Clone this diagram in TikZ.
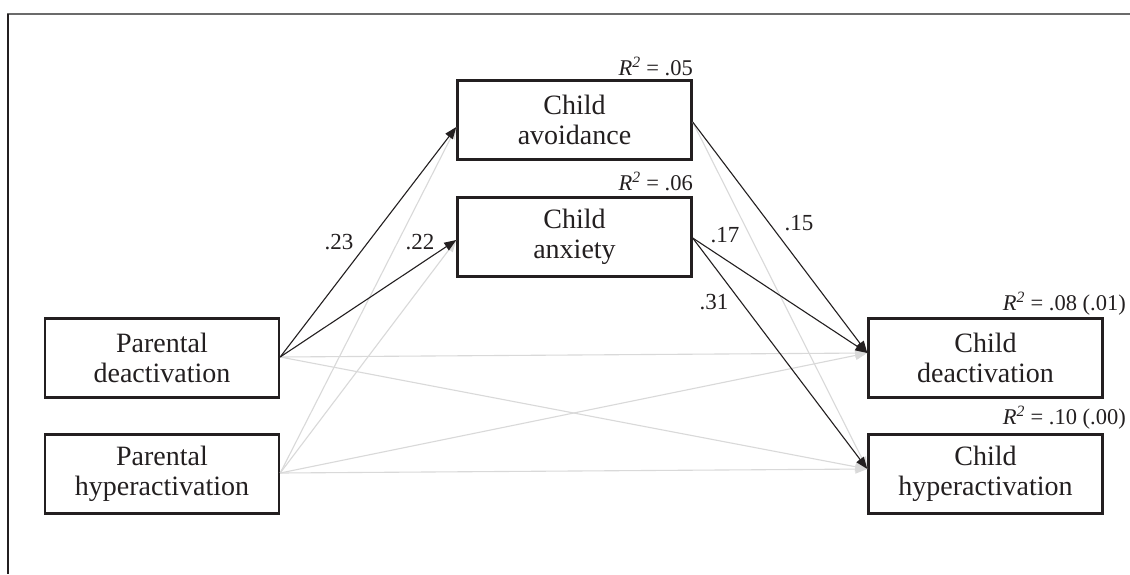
\documentclass[tikz,border=0pt]{standalone}
\usepackage{fontspec}
\setmainfont{Liberation Serif}
\usetikzlibrary{arrows.meta,calc}
\definecolor{ink}{HTML}{231F20}
\definecolor{faint}{HTML}{D9D9D9}
\definecolor{framegray}{HTML}{6B6B6B}
\tikzset{
  varbox/.style={draw=ink, line width=2.4pt, minimum width=234pt, minimum height=79pt,
    align=center, inner sep=0pt, text=ink,
    font=\fontsize{28}{29.5}\selectfont},
  strong/.style={draw=ink, line width=1.1pt, -{Triangle[length=12pt,width=9pt]}},
  weak/.style={draw=faint, line width=1.1pt, -{Triangle[length=12pt,width=9pt]}},
  rsq/.style={anchor=base east, inner sep=0pt, text=ink, font=\fontsize{22.5}{24}\selectfont},
  coef/.style={inner sep=0pt, text=ink, font=\fontsize{23}{25}\selectfont},
}
\begin{document}
\begin{tikzpicture}[x=1pt,y=-1pt]
\useasboundingbox (0,0) rectangle (1130,574);
\fill[white] (0,0) rectangle (1130,574);
\draw[framegray, line width=2pt] (7,14) -- (1130,14);
\draw[ink, line width=1.4pt] (8,13.5) -- (8,574);

\node[varbox] (pd) at (162,358) {Parental\\deactivation};
\node[varbox] (ph) at (162,474) {Parental\\hyperactivation};
\node[varbox] (cav) at (574.5,120) {Child\\avoidance};
\node[varbox] (can) at (574.5,237) {Child\\anxiety};
\node[varbox] (cd) at (985.5,358) {Child\\deactivation};
\node[varbox] (ch) at (985.5,474) {Child\\hyperactivation};

\coordinate (pdo) at ($(pd.east)+(0,-1)$);
\coordinate (pho) at ($(ph.east)+(0,-1)$);
\coordinate (cavi) at ($(cav.west)+(0,7)$);
\coordinate (cani) at ($(can.west)+(0,3)$);
\coordinate (cavo) at ($(cav.east)+(0,2)$);
\coordinate (cano) at ($(can.east)+(0,1)$);
\coordinate (cdi) at ($(cd.west)+(0,-5)$);
\coordinate (chi) at ($(ch.west)+(0,-5)$);

% non-significant paths
\draw[weak] (pho) -- (cavi);
\draw[weak] (pho) -- (cani);
\draw[weak] (pho) -- (cdi);
\draw[weak] (pho) -- (chi);
\draw[weak] (pdo) -- (cdi);
\draw[weak] (pdo) -- (chi);
\draw[weak] (cavo) -- (chi);

% significant paths
\draw[strong] (pdo) -- (cavi);
\draw[strong] (pdo) -- (cani);
\draw[strong] (cavo) -- (cdi);
\draw[strong] (cano) -- (cdi);
\draw[strong] (cano) -- (chi);

% coefficients
\node[coef] (k1) at (339,242) {.23};
\node[coef] (k2) at (420,242) {.22};
\node[coef] (k3) at (799,223) {.15};
\node[coef] (k4) at (725,235) {.17};
\node[coef] (k5) at (714,302) {.31};

% R squared
\node[rsq] (r1) at (693,75) {\textit{R}\textsuperscript{\textit{2}} = .05};
\node[rsq] (r2) at (693,190) {\textit{R}\textsuperscript{\textit{2}} = .06};
\node[rsq] (r3) at (1126,310) {\textit{R}\textsuperscript{\textit{2}} = .08 (.01)};
\node[rsq] (r4) at (1126,424) {\textit{R}\textsuperscript{\textit{2}} = .10 (.00)};
\end{tikzpicture}
\end{document}
